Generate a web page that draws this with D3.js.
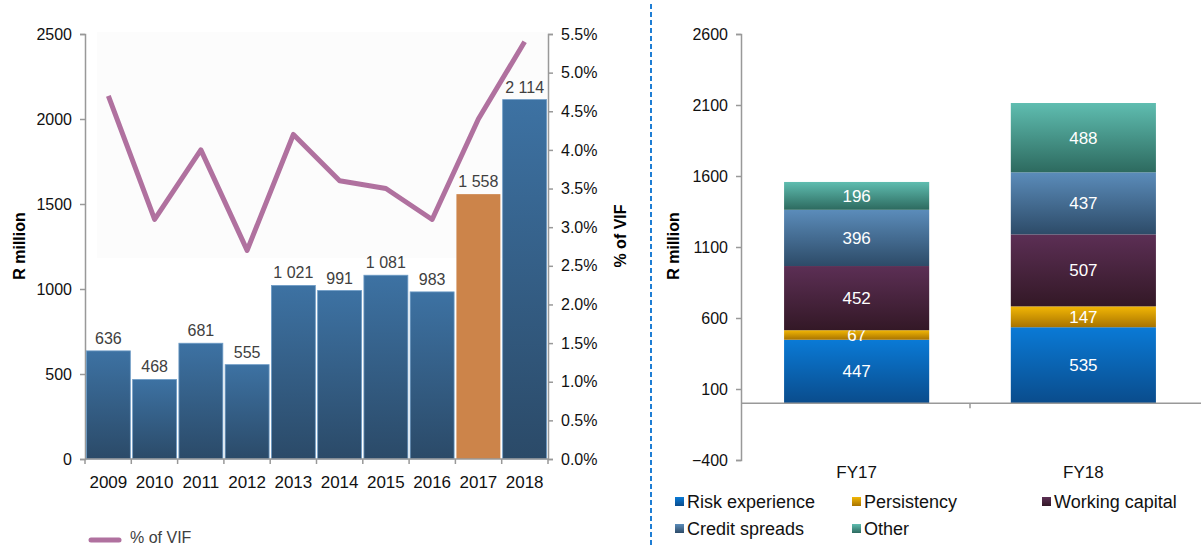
<!DOCTYPE html>
<html lang="en">
<head>
<meta charset="UTF-8">
<title>Experience variances</title>
<script src="https://d3js.org/d3.v7.min.js"></script>
<style>
    body, html { margin: 0; padding: 0; background: #fff; }
    svg { display: block; font-family: "Liberation Sans", Arial, sans-serif; }
    .axis path, .axis line { stroke: #999; stroke-width: 1.5px; }
    .axis text { fill: #111; font-size: 16px; }
</style>
</head>
<body>
<svg id="chart" width="1203" height="547"></svg>
<script>
// left chart data
const years = ["2009", "2010", "2011", "2012", "2013", "2014", "2015", "2016", "2017", "2018"];
const yearValues = [636, 468, 681, 555, 1021, 991, 1081, 983, 1558, 2114];
const yearLabels = ["636", "468", "681", "555", "1 021", "991", "1 081", "983", "1 558", "2 114"];
const vifPct = [4.7, 3.1, 4.0, 2.7, 4.2, 3.6, 3.5, 3.1, 4.4, 5.4];
const leftTicks = [0, 500, 1000, 1500, 2000, 2500];
const pctTicks = [0, 0.5, 1, 1.5, 2, 2.5, 3, 3.5, 4, 4.5, 5, 5.5];

// right chart data
const periods = ["FY17", "FY18"];
const seriesNames = ["Risk experience", "Persistency", "Working capital", "Credit spreads", "Other"];
const riskExperience = [447, 535];
const persistency = [67, 147];
const workingCapital = [452, 507];
const creditSpreads = [396, 437];
const other = [196, 488];
const rightTicks = [-400, 100, 600, 1100, 1600, 2100, 2600];

const svg = d3.select("#chart");
const defs = svg.append("defs");

function vGrad(id, top, bottom) {
    const g = defs.append("linearGradient").attr("id", id)
        .attr("x1", 0).attr("y1", 0).attr("x2", 0).attr("y2", 1);
    g.append("stop").attr("offset", "0%").attr("stop-color", top);
    g.append("stop").attr("offset", "100%").attr("stop-color", bottom);
}
vGrad("gBar", "#3d72a3", "#2b4a68");
vGrad("gRisk", "#0a7ad6", "#0a4c8c");
vGrad("gPers", "#f2b705", "#a87300");
vGrad("gWork", "#5c2f55", "#331826");
vGrad("gCred", "#5b8cba", "#2d4b68");
vGrad("gOther", "#5fbdb0", "#2d6a5f");

// ---------- left chart ----------
const L = {left: 85, right: 548, top: 34, bottom: 459};

const xL = d3.scaleBand().domain(years).range([L.left, L.right]).paddingInner(0.05).paddingOuter(0.03);
const yL = d3.scaleLinear().domain([0, 2500]).range([L.bottom, L.top]);
const yP = d3.scaleLinear().domain([0, 5.5]).range([L.bottom, L.top]);

// faint plot background behind the line
svg.append("rect").attr("x", 97).attr("y", 32).attr("width", 452).attr("height", 226)
    .attr("fill", "#fcfcfc");

svg.append("g").attr("class", "axis")
    .attr("transform", `translate(${L.left},0)`)
    .call(d3.axisLeft(yL).tickValues(leftTicks).tickSize(5).tickPadding(8).tickFormat(d3.format("d")));

svg.append("g").attr("class", "axis")
    .attr("transform", `translate(${L.right},0)`)
    .call(d3.axisRight(yP).tickValues(pctTicks).tickSize(5).tickPadding(8).tickFormat(d => d.toFixed(1) + "%"));

svg.selectAll(".barL").data(years).enter().append("rect")
    .attr("x", d => xL(d))
    .attr("width", xL.bandwidth())
    .attr("y", (d, i) => yL(yearValues[i]))
    .attr("height", (d, i) => yL(0) - yL(yearValues[i]))
    .attr("fill", d => d === "2017" ? "#cc844a" : "url(#gBar)")
    .attr("stroke", d => d === "2017" ? "none" : "#6e9cc6")
    .attr("stroke-width", 0.8);

// x axis with ticks between bars
const xAxisG = svg.append("g").attr("class", "axis").attr("transform", `translate(0,${L.bottom})`);
xAxisG.append("line").attr("x1", L.left).attr("x2", L.right).attr("y1", 0).attr("y2", 0);
const step = (L.right - L.left) / years.length;
xAxisG.selectAll(".tk").data(d3.range(years.length + 1)).enter().append("line")
    .attr("x1", i => L.left + i * step).attr("x2", i => L.left + i * step)
    .attr("y1", 0).attr("y2", 5);
xAxisG.selectAll("text").data(years).enter().append("text")
    .attr("x", d => xL(d) + xL.bandwidth() / 2)
    .attr("y", 29)
    .attr("text-anchor", "middle")
    .style("font-size", "17px")
    .text(d => d);

svg.selectAll(".lblL").data(years).enter().append("text")
    .attr("x", d => xL(d) + xL.bandwidth() / 2)
    .attr("y", (d, i) => yL(yearValues[i]) - 7)
    .attr("text-anchor", "middle")
    .attr("font-size", 16)
    .attr("fill", "#404040")
    .text((d, i) => yearLabels[i]);

const line = d3.line()
    .x((d, i) => xL(years[i]) + xL.bandwidth() / 2)
    .y(d => yP(d));
svg.append("path").datum(vifPct)
    .attr("d", line)
    .attr("fill", "none")
    .attr("stroke", "#b0719f")
    .attr("stroke-width", 5)
    .attr("stroke-linejoin", "round");

svg.append("text")
    .attr("transform", "translate(25,246) rotate(-90)")
    .attr("text-anchor", "middle")
    .attr("font-size", 16).attr("font-weight", "bold")
    .text("R million");
svg.append("text")
    .attr("transform", "translate(626,236) rotate(-90)")
    .attr("text-anchor", "middle")
    .attr("font-size", 16).attr("font-weight", "bold")
    .text("% of VIF");

svg.append("line").attr("x1", 91).attr("x2", 119).attr("y1", 540).attr("y2", 540)
    .attr("stroke", "#b0719f").attr("stroke-width", 5).attr("stroke-linecap", "round");
svg.append("text").attr("x", 130).attr("y", 543)
    .attr("font-size", 16).attr("fill", "#404040").text("% of VIF");

// divider
svg.append("line").attr("x1", 651).attr("x2", 651).attr("y1", 4).attr("y2", 547)
    .attr("stroke", "#1f7ed4").attr("stroke-width", 2).attr("stroke-dasharray", "5,3");

// ---------- right chart ----------
const R = {left: 741, right: 1199, top: 34, bottom: 460};
const xR = d3.scaleBand().domain(periods).range([R.left, R.right]).paddingInner(0.36).paddingOuter(0.19);
const yR = d3.scaleLinear().domain([-400, 2600]).range([R.bottom, R.top]);

svg.append("g").attr("class", "axis")
    .attr("transform", `translate(${R.left},0)`)
    .call(d3.axisLeft(yR).tickValues(rightTicks).tickSize(5).tickPadding(8).tickFormat(d3.format("d")));

const seriesValues = [riskExperience, persistency, workingCapital, creditSpreads, other];
const fills = ["url(#gRisk)", "url(#gPers)", "url(#gWork)", "url(#gCred)", "url(#gOther)"];
const table = periods.map((p, i) => {
    const row = {period: p};
    seriesNames.forEach((s, j) => row[s] = seriesValues[j][i]);
    return row;
});
const stacked = d3.stack().keys(seriesNames)(table);

stacked.forEach((layer, j) => {
    const g = svg.append("g");
    g.selectAll("rect").data(layer).enter().append("rect")
        .attr("x", d => xR(d.data.period))
        .attr("width", xR.bandwidth())
        .attr("y", d => yR(d[1]))
        .attr("height", d => yR(d[0]) - yR(d[1]))
        .attr("fill", fills[j]);
    g.selectAll("text").data(layer).enter().append("text")
        .attr("x", d => xR(d.data.period) + xR.bandwidth() / 2)
        .attr("y", d => (yR(d[0]) + yR(d[1])) / 2 + 6)
        .attr("text-anchor", "middle")
        .attr("font-size", 17)
        .attr("fill", "#fff")
        .text(d => d[1] - d[0]);
});

// zero line with center tick
const zeroG = svg.append("g").attr("class", "axis");
zeroG.append("line").attr("x1", R.left).attr("x2", R.right + 2).attr("y1", yR(0)).attr("y2", yR(0));
zeroG.append("line").attr("x1", (R.left + R.right) / 2).attr("x2", (R.left + R.right) / 2)
    .attr("y1", yR(0)).attr("y2", yR(0) + 5);

svg.selectAll(".xlabR").data(periods).enter().append("text")
    .attr("x", d => xR(d) + xR.bandwidth() / 2)
    .attr("y", 478)
    .attr("text-anchor", "middle")
    .attr("font-size", 17).attr("fill", "#111")
    .text(d => d);

svg.append("text")
    .attr("transform", "translate(679,246) rotate(-90)")
    .attr("text-anchor", "middle")
    .attr("font-size", 16).attr("font-weight", "bold")
    .text("R million");

// legend
const legendPos = [[675, 502], [852, 502], [1042, 502], [675, 529], [852, 529]];
seriesNames.forEach((s, j) => {
    const [lx, ly] = legendPos[j];
    svg.append("rect").attr("x", lx).attr("y", ly - 5).attr("width", 9).attr("height", 9)
        .attr("fill", fills[j]);
    svg.append("text").attr("x", lx + 12).attr("y", ly + 6)
        .attr("font-size", 18).attr("fill", "#111").text(s);
});
</script>
</body>
</html>
